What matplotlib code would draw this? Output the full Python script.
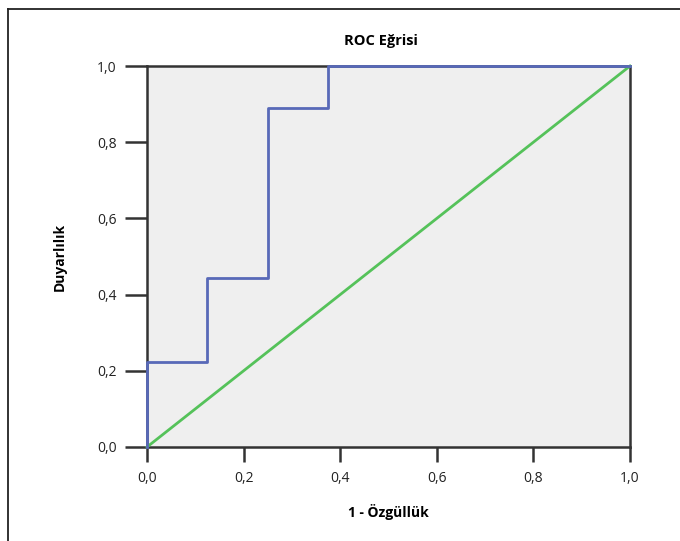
import matplotlib.pyplot as plt

plt.rcParams['font.family'] = ['Open Sans', 'DejaVu Sans']

# ROC verisi (1 - özgüllük, duyarlılık)
fpr = [0.0, 0.0, 0.125, 0.125, 0.25, 0.25, 0.375, 0.375, 1.0]
tpr = [0.0, 0.222, 0.222, 0.444, 0.444, 0.889, 0.889, 1.0, 1.0]
ref_line = [0.0, 1.0]
ticks = [0.0, 0.2, 0.4, 0.6, 0.8, 1.0]
tick_labels = ['0,0', '0,2', '0,4', '0,6', '0,8', '1,0']

fig = plt.figure(figsize=(6.8, 5.41), dpi=100)
ax = fig.add_axes([147 / 680, 1 - 447 / 541, 483 / 680, 381 / 541])

# dış çerçeve (sol ve üst)
fig.add_artist(plt.Line2D([8 / 680, 8 / 680], [0, 1 - 9 / 541], color='#222222', lw=1.3,
                          transform=fig.transFigure))
fig.add_artist(plt.Line2D([8 / 680, 1], [1 - 9 / 541, 1 - 9 / 541], color='#222222', lw=1.3,
                          transform=fig.transFigure))

ax.set_facecolor('#efefef')
ax.plot(ref_line, ref_line, color='#55c25a', lw=2, clip_on=False, zorder=3)
ax.plot(fpr, tpr, color='#5869b8', lw=2, clip_on=False, zorder=4)

ax.set_xlim(0, 1)
ax.set_ylim(0, 1)
ax.set_xticks(ticks)
ax.set_xticklabels(tick_labels)
ax.set_yticks(ticks)
ax.set_yticklabels(tick_labels)
for s in ax.spines.values():
    s.set_color('#333333')
    s.set_linewidth(1.8)
ax.tick_params(axis='x', direction='out', length=11, width=1.8, color='#333333',
               labelsize=10, pad=6, labelcolor='#222222')
ax.tick_params(axis='y', direction='out', length=16, width=1.8, color='#333333',
               labelsize=10, pad=6, labelcolor='#222222')

ax.set_title('ROC Eğrisi', fontsize=10.5, fontweight='bold', pad=15, x=0.485)
ax.set_xlabel('1 - Özgüllük', fontsize=10, fontweight='bold', labelpad=13)
ax.set_ylabel('Duyarlılık', fontsize=10, fontweight='bold', labelpad=22)

plt.savefig('out.png', dpi=100)
